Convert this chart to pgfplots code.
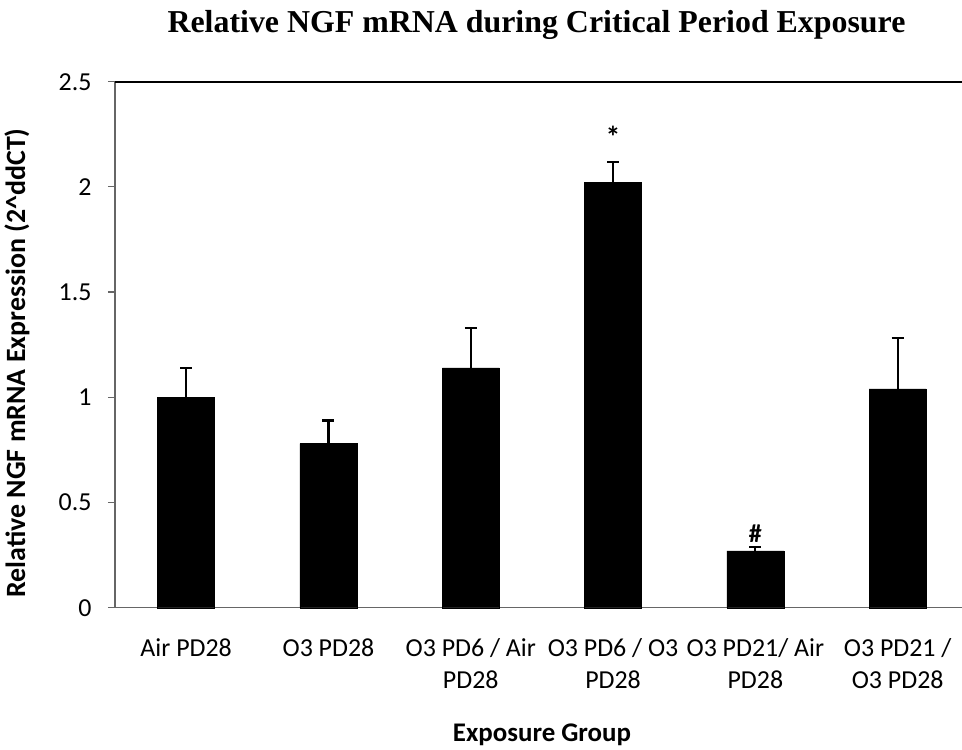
\documentclass[border=0pt]{standalone}
\usepackage{pgfplots}
\pgfplotsset{compat=1.18}
\usepackage{fontspec}
\setmainfont{Carlito}
\newfontfamily\titlefont{Liberation Serif}
\begin{document}
\begin{tikzpicture}
\begin{axis}[
  scale only axis,
  width=847bp, height=526bp,
  xmin=-0.5, xmax=5.452,
  ymin=0, ymax=2.5,
  axis lines*=left,
  axis line style={draw=gray!80!black, line width=1.2bp},
  xtick={0,1,2,3,4,5},
  xticklabels={\strut Air PD28, \strut O3 PD28, {\strut O3 PD6 / Air\\\strut PD28}, {\strut O3 PD6 / O3\\\strut PD28}, {\strut O3 PD21/ Air\\\strut PD28}, {\strut O3 PD21 /\\\strut O3 PD28}},
  xticklabel style={align=center, font=\fontsize{26}{32}\selectfont, yshift=-16bp},
  x tick style={draw=none},
  extra x ticks={-0.5,0.5,1.5,2.5,3.5,4.5},
  extra x tick labels={},
  extra x tick style={major tick length=7bp, tick style={draw=gray!80!black, line width=1.2bp}, tick align=outside},
  ytick={0,0.5,1,1.5,2,2.5},
  yticklabels={0,0.5,1,1.5,2,2.5},
  yticklabel style={font=\fontsize{26}{30}\selectfont, xshift=-13bp},
  tick align=outside,
  major tick length=7bp,
  y tick style={draw=gray!80!black, line width=1.2bp},
  clip=false,
]
\addplot[ybar, bar width=57bp, fill=black, draw=black,
  error bars/.cd, y dir=plus, y explicit,
  error bar style={line width=2.2bp, black},
  error mark options={rotate=90, mark size=6bp, line width=2.2bp, black}]
  coordinates {
  (0,1.00) +- (0,0.14)
  (1,0.78) +- (0,0.11)
  (2,1.14) +- (0,0.19)
  (3,2.02) +- (0,0.10)
  (4,0.27) +- (0,0.02)
  (5,1.04) +- (0,0.24)
  };
\draw[black, line width=2bp] (rel axis cs:0,1) -- (rel axis cs:1,1);
\node[anchor=base, font=\bfseries\fontsize{30}{34}\selectfont] at (axis cs:3,2.185) {*};
\node[anchor=base, font=\bfseries\fontsize{26}{30}\selectfont] at (axis cs:4,0.31) {\#};
\coordinate (o) at (rel axis cs:0,0);
\end{axis}
\node[anchor=base, font=\titlefont\bfseries\fontsize{32}{36}\selectfont] at ([xshift=421.5bp, yshift=574.7bp]o) {Relative NGF mRNA during Critical Period Exposure};
\node[anchor=base, font=\bfseries\fontsize{27}{32}\selectfont] at ([xshift=427bp, yshift=-134bp]o) {Exposure Group};
\node[rotate=90, anchor=center, font=\bfseries\fontsize{28}{32}\selectfont] at ([xshift=-98bp, yshift=244.7bp]o) {Relative NGF mRNA Expression (2\textasciicircum{}ddCT)};
\pgfresetboundingbox
\path[use as bounding box] (o) ++(-115bp,-142.3bp) rectangle ++(962bp,750bp);
\end{tikzpicture}
\end{document}
